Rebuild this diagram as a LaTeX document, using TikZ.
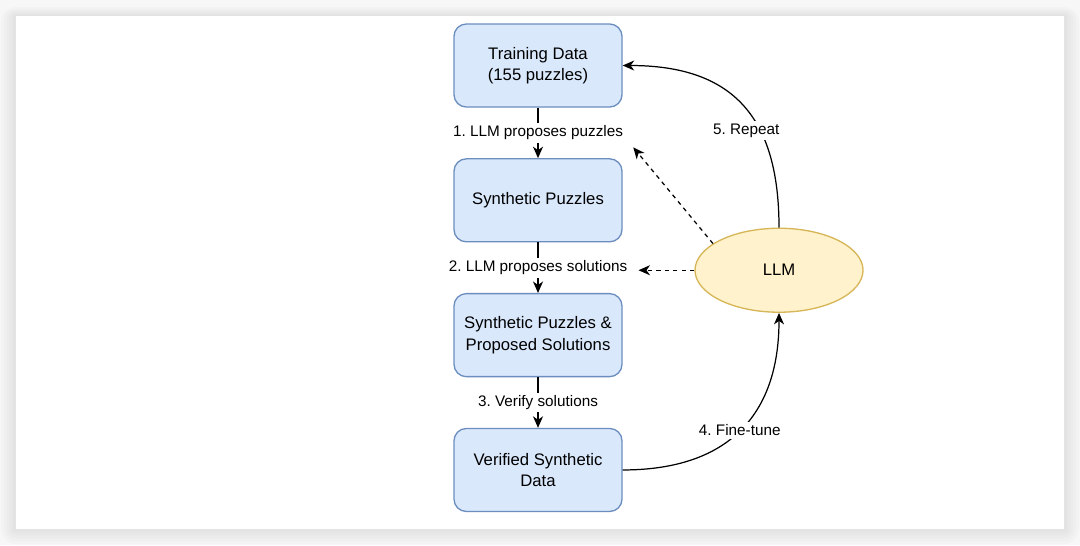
\documentclass[tikz,border=0pt]{standalone}
\usepackage{fontspec}
\setmainfont{Liberation Sans}
\usepackage{xcolor}
\definecolor{boxfill}{HTML}{DAE8FC}
\definecolor{boxline}{HTML}{6C8EBF}
\definecolor{llmfill}{HTML}{FFF2CC}
\definecolor{llmline}{HTML}{D6B656}
\definecolor{pagebg}{HTML}{F7F7F7}
\usepackage{tikz}
\usetikzlibrary{shapes.geometric,arrows.meta,positioning,calc}
\frenchspacing

\begin{document}
\begin{tikzpicture}[
  node distance=1.01cm,
  stagebox/.style={draw=boxline, fill=boxfill, rounded corners=7pt, align=center, line width=0.75pt, minimum width=3.36cm, minimum height=1.66cm, font=\fontsize{9.5}{12}\selectfont},
  llmnode/.style={ellipse, draw=llmline, fill=llmfill, line width=0.75pt, minimum width=3.36cm, minimum height=1.68cm, font=\fontsize{9.5}{12}\selectfont},
  steplabel/.style={fill=white, inner sep=1.5pt, font=\fontsize{8.7}{10}\selectfont},
  arrow/.style={-{Stealth[length=2.3mm, width=2mm, inset=0.7mm]}, line width=0.7pt, color=black},
  hint/.style={arrow, dash pattern=on 2.4pt off 2.4pt}
]
% page and card
\useasboundingbox (0,0) rectangle (21.6,-10.9);
\fill[pagebg] (0,0) rectangle (21.6,-10.9);
\foreach \s in {0.30,0.24,0.18,0.12,0.06}
  \fill[black, opacity=0.014, rounded corners=\s cm] (0.32-\s,-0.32+\s*0.6) rectangle (21.28+\s,-10.58-\s);
\fill[white] (0.32,-0.32) rectangle (21.28,-10.58);

% pipeline
\node[stagebox] (train) at (10.76,-1.31) {Training Data\\(155 puzzles)};
\node[stagebox, below=of train] (synth) {Synthetic Puzzles};
\node[stagebox, below=of synth] (proposed) {Synthetic Puzzles \&\\Proposed Solutions};
\node[stagebox, below=of proposed] (verified) {Verified Synthetic\\Data};
\node[llmnode] (llm) at ($(synth.center)!0.5!(proposed.center)+(4.82,-0.05)$) {LLM};

\draw[arrow] (train) -- node[steplabel] (lbl1) {1. LLM proposes puzzles} (synth);
\draw[arrow] (synth) -- node[steplabel] (lbl2) {2. LLM proposes solutions} (proposed);
\draw[arrow] (proposed) -- node[steplabel] (lbl3) {3. Verify solutions} (verified);

\coordinate (tip1) at ($(lbl1.south east)+(0.14,-0.08)$);
\coordinate (tip2) at ($(lbl2.east)+(0.16,0)$);
\draw[hint] (llm.158) -- (tip1);
\draw[hint] (llm.west) -- (llm.west -| tip2);

\draw[arrow] (verified.east) to[out=0, in=-90, looseness=1.2] node[steplabel, pos=0.5] {4. Fine-tune} (llm.south);
\draw[arrow] (llm.north) to[out=90, in=0, looseness=1.25] node[steplabel, pos=0.36, xshift=-0.28cm] {5. Repeat} (train.east);
\end{tikzpicture}
\end{document}
